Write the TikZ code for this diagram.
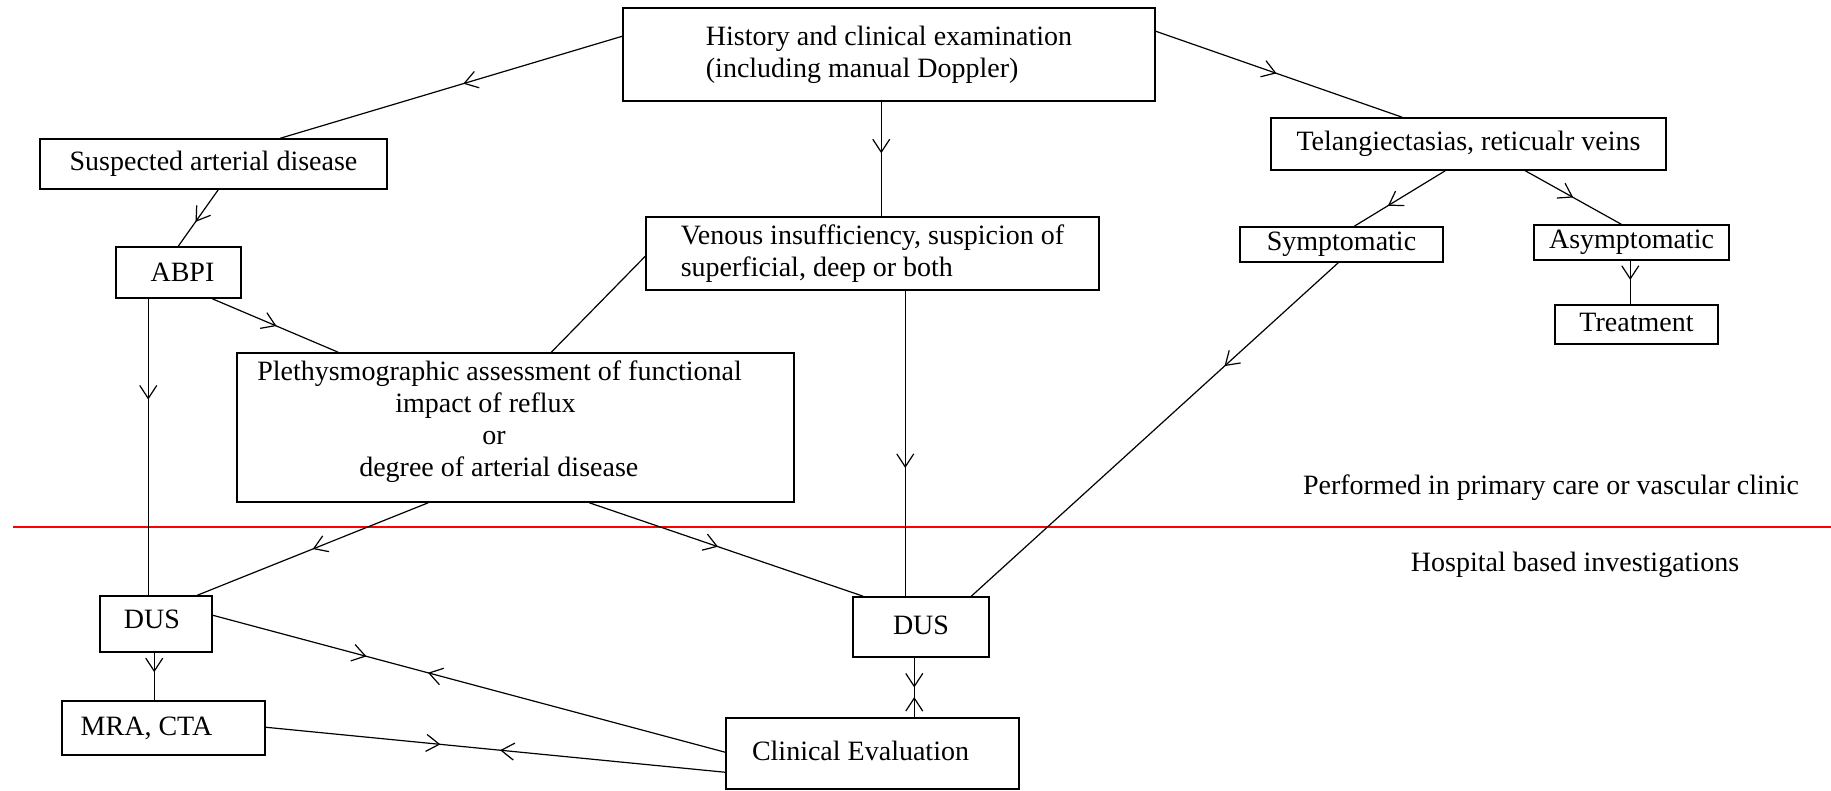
\documentclass[tikz,border=0pt]{standalone}
\usepackage{fontspec}
\setmainfont{Liberation Serif}
\usetikzlibrary{arrows.meta,calc,decorations.markings}
\tikzset{
  vb/.tip={Straight Barb[length=13pt,width=17pt]},
  box/.style={draw, line width=1.5pt, inner sep=0pt, anchor=center,
    font=\fontsize{28}{32}\selectfont},
  lbl/.style={inner sep=0pt, font=\fontsize{28}{32}\selectfont},
  conn/.style={line width=1.2pt},
  marr/.style={postaction={decorate}, decoration={markings,
    mark=at position #1 with {\arrow{vb}}}},
  darr/.style 2 args={postaction={decorate}, decoration={markings,
    mark=at position #1 with {\arrow{vb}},
    mark=at position #2 with {\arrowreversed{vb}}}}
}
\begin{document}
\begin{tikzpicture}[x=1pt,y=-1pt]
\useasboundingbox (0,0) rectangle (1831,790);
% divider
\draw[red, line width=1.6pt] (13,527) -- (1831,527);
% boxes
\node[box, minimum width=532pt, minimum height=93pt, align=left] (hist) at (889,54.5)
  {History and clinical examination\\(including manual Doppler)};
\node[box, minimum width=347pt, minimum height=50pt] (susp) at (213.5,164) {Suspected arterial disease};
\node[box, minimum width=125pt, minimum height=51pt] (abpi) at (178.5,272.5) {\hspace*{8pt}ABPI};
\node[box, minimum width=453pt, minimum height=73pt, align=left] (ven) at (872.5,253.5)
  {Venous insufficiency, suspicion of\\superficial, deep or both};
\node[box, minimum width=395pt, minimum height=52pt] (tel) at (1468.5,144) {Telangiectasias, reticualr veins};
\node[box, minimum width=203pt, minimum height=35pt] (sym) at (1341.5,244.5) {\raisebox{3pt}{Symptomatic}};
\node[box, minimum width=195pt, minimum height=35pt] (asym) at (1631.5,242.5) {Asymptomatic};
\node[box, minimum width=163pt, minimum height=39pt] (treat) at (1636.5,324.5) {\raisebox{4pt}{Treatment}};
\node[box, minimum width=557pt, minimum height=149pt, align=left] (pleth) at (515.5,427.5)
  {Plethysmographic assessment of functional\rule{32pt}{0pt}\\
   \hspace*{138pt}impact of reflux\\
   \hspace*{225pt}or\\
   \hspace*{102pt}degree of arterial disease\\[-14pt]\mbox{}};
\node[box, minimum width=112pt, minimum height=56pt] (dusl) at (156,624) {\raisebox{9pt}{DUS}\rule{8pt}{0pt}};
\node[box, minimum width=203pt, minimum height=54pt] (mra) at (163.5,728) {MRA, CTA\rule{34pt}{0pt}};
\node[box, minimum width=136pt, minimum height=60pt] (dusm) at (921,627) {\raisebox{4pt}{DUS}};
\node[box, minimum width=293pt, minimum height=71pt] (clin) at (872.5,753.5) {\raisebox{5pt}{Clinical Evaluation}\rule{24pt}{0pt}};
% free labels
\node[lbl] (prim) at (1551,488) {Performed in primary care or vascular clinic};
\node[lbl] (hosp) at (1575,565) {Hospital based investigations};
% connectors
\draw[conn, marr=0.465] ($(hist.north west)+(0,29)$) -- ($(susp.north west)+(241,0)$);
\draw[conn, marr=0.57] ($(susp.south west)+(179,0)$) -- ($(abpi.north west)+(63,0)$);
\draw[conn, marr=0.51] ($(abpi.south west)+(97,0)$) -- ($(pleth.north west)+(102,0)$);
\draw[conn, marr=0.34] ($(abpi.south west)+(33,0)$) -- ($(dusl.north west)+(49,0)$);
\draw[conn, marr=0.45] ($(hist.south west)+(259,0)$) -- ($(ven.north west)+(236,0)$);
\draw[conn, marr=0.49] ($(hist.north east)+(0,24)$) -- ($(tel.north west)+(132,0)$);
\draw[conn, marr=0.63] ($(tel.south west)+(175,0)$) -- ($(sym.north west)+(115,0)$);
\draw[conn, marr=0.5] ($(tel.south west)+(255,0)$) -- ($(asym.north west)+(88,0)$);
\draw[conn, marr=0.44] ($(asym.south west)+(97,0)$) -- ($(treat.north west)+(76,0)$);
\draw[conn, marr=0.31] ($(sym.south west)+(99,0)$) -- ($(dusm.north west)+(119,0)$);
\draw[conn, marr=0.58] ($(ven.south west)+(260,0)$) -- ($(dusm.north west)+(53,0)$);
\draw[conn] ($(ven.north west)+(0,40)$) -- ($(pleth.north west)+(315,0)$);
\draw[conn, marr=0.50] ($(pleth.south west)+(192,0)$) -- ($(dusl.north west)+(98,0)$);
\draw[conn, marr=0.47] ($(pleth.south west)+(353,0)$) -- ($(dusm.north west)+(11,0)$);
\draw[conn, marr=0.41] ($(dusl.south west)+(55,0)$) -- ($(mra.north west)+(93,0)$);
\draw[conn, darr={0.30}{0.42}] ($(dusl.north east)+(0,20)$) -- ($(clin.north west)+(0,35)$);
\draw[conn, darr={0.38}{0.51}] ($(mra.north east)+(0,27)$) -- ($(clin.north west)+(0,55)$);
\draw[conn, darr={0.5}{0.66}] ($(dusm.south west)+(62,0)$) -- ($(clin.north west)+(189,0)$);
\end{tikzpicture}
\end{document}
